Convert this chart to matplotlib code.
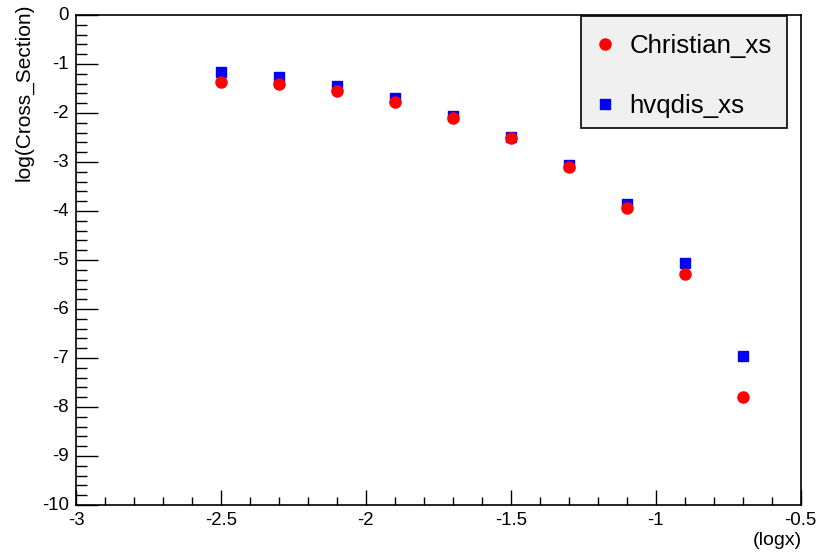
import numpy as np
import matplotlib.pyplot as plt
from matplotlib.patches import Rectangle
from matplotlib.ticker import MultipleLocator

plt.rcParams['font.family'] = ['Liberation Sans', 'DejaVu Sans']

# log10(x) bins
logx = [-2.5, -2.3, -2.1, -1.9, -1.7, -1.5, -1.3, -1.1, -0.9, -0.7]

# log of cross section for the two calculations
christian_xs = [-1.37, -1.41, -1.55, -1.78, -2.10, -2.51, -3.10, -3.94, -5.29, -7.80]
hvqdis_xs = [-1.16, -1.26, -1.44, -1.69, -2.06, -2.49, -3.06, -3.86, -5.06, -6.96]

fig = plt.figure(figsize=(8.17, 5.52), dpi=100)
ax = fig.add_axes([0.093, 0.0851, 0.887, 0.8877])

ax.plot(logx, hvqdis_xs, 's', color='#0000ff', markersize=7, label='hvqdis_xs', zorder=2)
ax.plot(logx, christian_xs, 'o', color='#ff0000', markersize=8, label='Christian_xs', zorder=3)

ax.set_xlim(-3, -0.5)
ax.set_ylim(-10, 0)

ax.xaxis.set_major_locator(MultipleLocator(0.5))
ax.xaxis.set_minor_locator(MultipleLocator(0.1))
ax.yaxis.set_major_locator(MultipleLocator(1))
ax.yaxis.set_minor_locator(MultipleLocator(0.2))

# tick labels placed by hand, ROOT style
ax.set_xticklabels([])
ax.set_yticklabels([])
for v in np.arange(-3, -0.49, 0.5):
    ax.text(v, -10.15, '%g' % v, ha='center', va='top', fontsize=13.4)
for v in range(-10, 1):
    ax.text(-3.025, v, '%d' % v, ha='right', va='center', fontsize=13.4)

ax.tick_params(axis='x', which='major', direction='in', length=11, width=1, top=False)
ax.tick_params(axis='x', which='minor', direction='in', length=6, width=1, top=False)
ax.tick_params(axis='y', which='major', direction='in', length=16, width=1, right=False)
ax.tick_params(axis='y', which='minor', direction='in', length=8, width=1, right=False)
for s in ax.spines.values():
    s.set_linewidth(1.2)

fig.text(0.029, 0.994, 'log(Cross_Section)', rotation=90, ha='center', va='top', fontsize=15)
fig.text(0.951, 0.006, '(logx)', ha='center', va='bottom', fontsize=14)

# legend: grey box drawn separately, entries on top of it
fig.patches.append(Rectangle((0.7111, 0.7681), 0.2521, 0.2029, transform=fig.transFigure,
                             facecolor='#f0f0f0', edgecolor='black', linewidth=1.2,
                             zorder=5))
handles, labels = ax.get_legend_handles_labels()
leg = fig.legend(handles[::-1], labels[::-1], loc='upper left',
                 bbox_to_anchor=(0.7085, 0.962), fontsize=18.6,
                 frameon=False, borderpad=0.5,
                 labelspacing=1.4, handlelength=1.0, handletextpad=0.47,
                 borderaxespad=0)
leg.set_zorder(6)

fig.savefig('out.png', dpi=100)
